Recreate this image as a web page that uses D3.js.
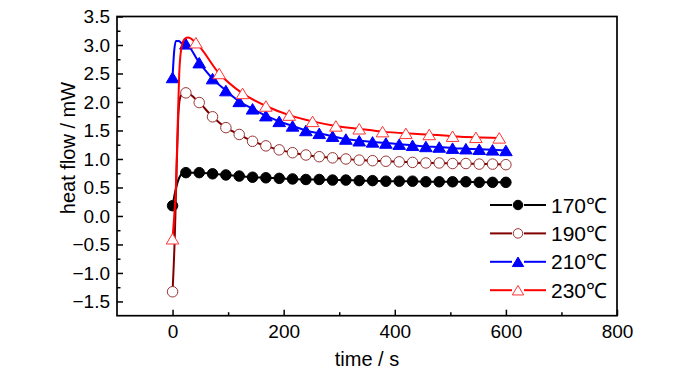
<!DOCTYPE html>
<html>
<head>
<meta charset="utf-8">
<script src="https://cdn.jsdelivr.net/npm/d3@7"></script>
<style>
body { margin: 0; background: #fff; }
svg text { font-family: "Liberation Sans", Arial, sans-serif; fill: #000; }
</style>
</head>
<body>
<script>
// sample times of the markers
var t24 = [0, 24, 48, 72, 96, 120, 144, 168, 192, 216, 240, 264, 288, 312, 336, 360, 384, 408, 432, 456, 480, 504, 528, 552, 576, 600];
var t42 = [0, 42, 84, 126, 168, 210, 252, 294, 336, 378, 420, 462, 504, 546, 588];

// heat flow (mW)
var v170 = [0.18, 0.76, 0.76, 0.74, 0.72, 0.70, 0.68, 0.67, 0.66, 0.65, 0.64, 0.64, 0.63, 0.63, 0.62, 0.62, 0.61, 0.61, 0.61, 0.60, 0.60, 0.60, 0.60, 0.59, 0.59, 0.59];
var v190 = [-1.33, 2.16, 1.99, 1.74, 1.55, 1.43, 1.31, 1.23, 1.16, 1.11, 1.07, 1.04, 1.02, 1.00, 0.98, 0.97, 0.96, 0.95, 0.94, 0.93, 0.93, 0.92, 0.92, 0.91, 0.91, 0.90];
var v210 = [2.43, 3.02, 2.69, 2.41, 2.20, 2.01, 1.88, 1.76, 1.66, 1.58, 1.50, 1.45, 1.40, 1.35, 1.32, 1.30, 1.28, 1.26, 1.24, 1.22, 1.21, 1.19, 1.18, 1.17, 1.16, 1.15];
var v230 = [-0.40, 3.04, 2.50, 2.15, 1.93, 1.77, 1.66, 1.58, 1.53, 1.48, 1.45, 1.43, 1.40, 1.38, 1.37];

// extra curve points on the steep start (line only, no marker)
var rise170T = [4, 10, 16], rise170V = [0.39, 0.62, 0.73];
var rise190T = [4, 7, 10, 12, 15], rise190V = [-0.37, 0.7, 1.67, 1.98, 2.11];
var rise210T = [3, 6, 11, 17], rise210V = [2.9, 3.07, 3.07, 3.03];
var rise230T = [3, 6, 9, 12, 16, 22, 28], rise230V = [0.0, 0.5, 1.5, 2.5, 2.95, 3.11, 3.13];

var labels = ["170\u2103", "190\u2103", "210\u2103", "230\u2103"];

var xTicks = [0, 200, 400, 600, 800];
var xMinor = [100, 300, 500, 700];
var yTicks = [-1.5, -1.0, -0.5, 0.0, 0.5, 1.0, 1.5, 2.0, 2.5, 3.0, 3.5];
var yMinor = [-1.25, -0.75, -0.25, 0.25, 0.75, 1.25, 1.75, 2.25, 2.75, 3.25];

var series = [
  {t: t24, v: v170, rt: rise170T, rv: rise170V, color: "#000000", stroke: "#000000", shape: "circle", fill: "#000000"},
  {t: t24, v: v190, rt: rise190T, rv: rise190V, color: "#800000", stroke: "#993333", shape: "circle", fill: "#ffffff"},
  {t: t24, v: v210, rt: rise210T, rv: rise210V, color: "#0000ff", stroke: "#0000ff", shape: "triangle", fill: "#0000ff"},
  {t: t42, v: v230, rt: rise230T, rv: rise230V, color: "#ff0000", stroke: "#ff3333", shape: "triangle", fill: "#ffffff"}
];

var width = 700, height = 374;
var plotLeft = 117, plotRight = 617, plotTop = 16.5, plotBottom = 315.7;

var svg = d3.select("body").append("svg")
  .attr("width", width)
  .attr("height", height);

var x = d3.scaleLinear().domain([-100, 800]).range([plotLeft, plotRight]);
var y = d3.scaleLinear().domain([-1.75, 3.5]).range([plotBottom, plotTop]);

// axes, ticks pointing inside
svg.append("g").attr("transform", "translate(0," + plotBottom + ")")
  .call(d3.axisBottom(x).tickValues(xTicks).tickSizeInner(-6).tickSizeOuter(0).tickPadding(9));
svg.append("g").attr("transform", "translate(0," + plotBottom + ")")
  .call(d3.axisBottom(x).tickValues(xMinor).tickSizeInner(-3.5).tickSizeOuter(0).tickFormat(""));
svg.append("g").attr("transform", "translate(" + plotLeft + ",0)")
  .call(d3.axisLeft(y).tickValues(yTicks).tickSizeInner(-6).tickSizeOuter(0).tickPadding(7).tickFormat(d3.format(".1f")));
svg.append("g").attr("transform", "translate(" + plotLeft + ",0)")
  .call(d3.axisLeft(y).tickValues(yMinor).tickSizeInner(-3.5).tickSizeOuter(0).tickFormat(""));

svg.selectAll(".domain").remove();
svg.selectAll(".tick line").attr("stroke", "#000").attr("stroke-width", 1.5);
svg.selectAll(".tick text").style("font-size", "19px").attr("fill", "#000");

svg.append("rect")
  .attr("x", plotLeft).attr("y", plotTop)
  .attr("width", plotRight - plotLeft).attr("height", plotBottom - plotTop)
  .attr("fill", "none").attr("stroke", "#000").attr("stroke-width", 1.7);

// axis titles
svg.append("text")
  .attr("x", (plotLeft + plotRight) / 2).attr("y", 366)
  .attr("text-anchor", "middle").style("font-size", "20px")
  .text("time / s");
svg.append("text")
  .attr("transform", "translate(75,148) rotate(-90)")
  .attr("text-anchor", "middle").style("font-size", "20px")
  .text("heat flow / mW");

function triPath(s) {
  var h = s, w = s * 0.6;
  return "M0," + (-h / 2) + "L" + w + "," + (h / 2) + "L" + (-w) + "," + (h / 2) + "Z";
}

function drawMarker(g, d, px, py, size) {
  if (d.shape === "circle") {
    g.append("circle").attr("cx", px).attr("cy", py).attr("r", size / 2)
      .attr("fill", d.fill).attr("stroke", d.stroke).attr("stroke-width", 1);
  } else {
    g.append("path").attr("d", triPath(size))
      .attr("transform", "translate(" + px + "," + py + ")")
      .attr("fill", d.fill).attr("stroke", d.stroke).attr("stroke-width", 1);
  }
}

var line = d3.line()
  .x(function(p) { return x(p[0]); })
  .y(function(p) { return y(p[1]); })
  .curve(d3.curveMonotoneX);

var plot = svg.append("g");

series.forEach(function(d) {
  var pts = d.t.map(function(t, i) { return [t, d.v[i]]; })
    .concat(d.rt.map(function(t, i) { return [t, d.rv[i]]; }))
    .sort(function(a, b) { return a[0] - b[0]; });
  var g = plot.append("g");
  g.append("path")
    .attr("d", line(pts))
    .attr("fill", "none")
    .attr("stroke", d.color)
    .attr("stroke-width", 2);
  d.t.forEach(function(t, i) {
    drawMarker(g, d, x(t), y(d.v[i]), 10.5);
  });
});

// legend
var legend = svg.append("g");
series.forEach(function(d, i) {
  var ly = 205 + i * 28.4;
  legend.append("line").attr("x1", 490).attr("x2", 512).attr("y1", ly).attr("y2", ly)
    .attr("stroke", d.color).attr("stroke-width", 2);
  legend.append("line").attr("x1", 524).attr("x2", 546).attr("y1", ly).attr("y2", ly)
    .attr("stroke", d.color).attr("stroke-width", 2);
  drawMarker(legend, d, 518, ly, 9.5);
  legend.append("text").attr("x", 551).attr("y", ly + 7.5)
    .style("font-size", "21px")
    .text(labels[i]);
});
</script>
</body>
</html>
